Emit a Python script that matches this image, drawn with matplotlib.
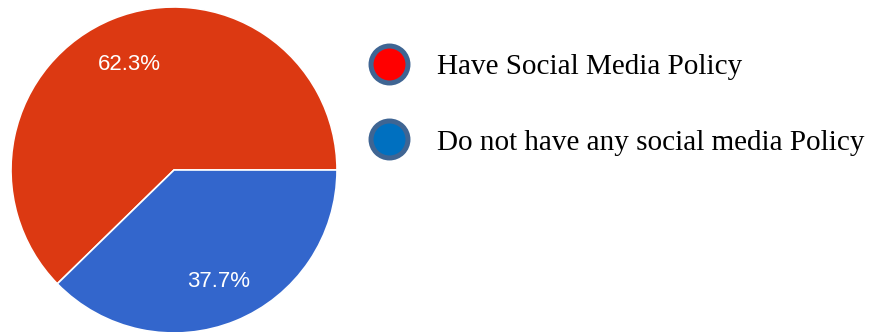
import matplotlib
matplotlib.use("Agg")
import matplotlib.pyplot as plt

labels = ["Have Social Media Policy", "Do not have any social media Policy"]
shares = [62.3, 37.7]
wedge_colors = ["#DC3912", "#3366CC"]
key_colors = ["#FF0000", "#0070C0"]

W, H = 878, 332
fig = plt.figure(figsize=(W / 100, H / 100), dpi=100)
ax = fig.add_axes([0, 0, 1, 1])
ax.set_xlim(0, W)
ax.set_ylim(0, H)
ax.set_aspect("equal")
ax.axis("off")

cx, cy, r = 174, H - 170, 163
wedges, _, autotexts = ax.pie(
    shares, colors=wedge_colors, startangle=0, counterclock=True,
    center=(cx, cy), radius=r, autopct="%.1f%%", pctdistance=0.72,
    wedgeprops=dict(edgecolor="white", linewidth=1.2),
    textprops=dict(color="white", fontsize=16, family="Liberation Sans"),
)
for t in autotexts:
    x, y = t.get_position()
    t.set_position((x, y - 3))
ax.set_xlim(0, W)
ax.set_ylim(0, H)

# legend keys and labels
key_y = [H - 63.5, H - 139]
for y, col, lab in zip(key_y, key_colors, labels):
    ax.plot([389], [y], marker="o", markersize=26.6, markerfacecolor=col,
            markeredgecolor="#3F6593", markeredgewidth=3.6, linestyle="none")
    ax.text(437, y - 4, lab, fontsize=21, family="Liberation Serif",
            color="black", va="center", ha="left")

fig.savefig("out.png", dpi=100)
